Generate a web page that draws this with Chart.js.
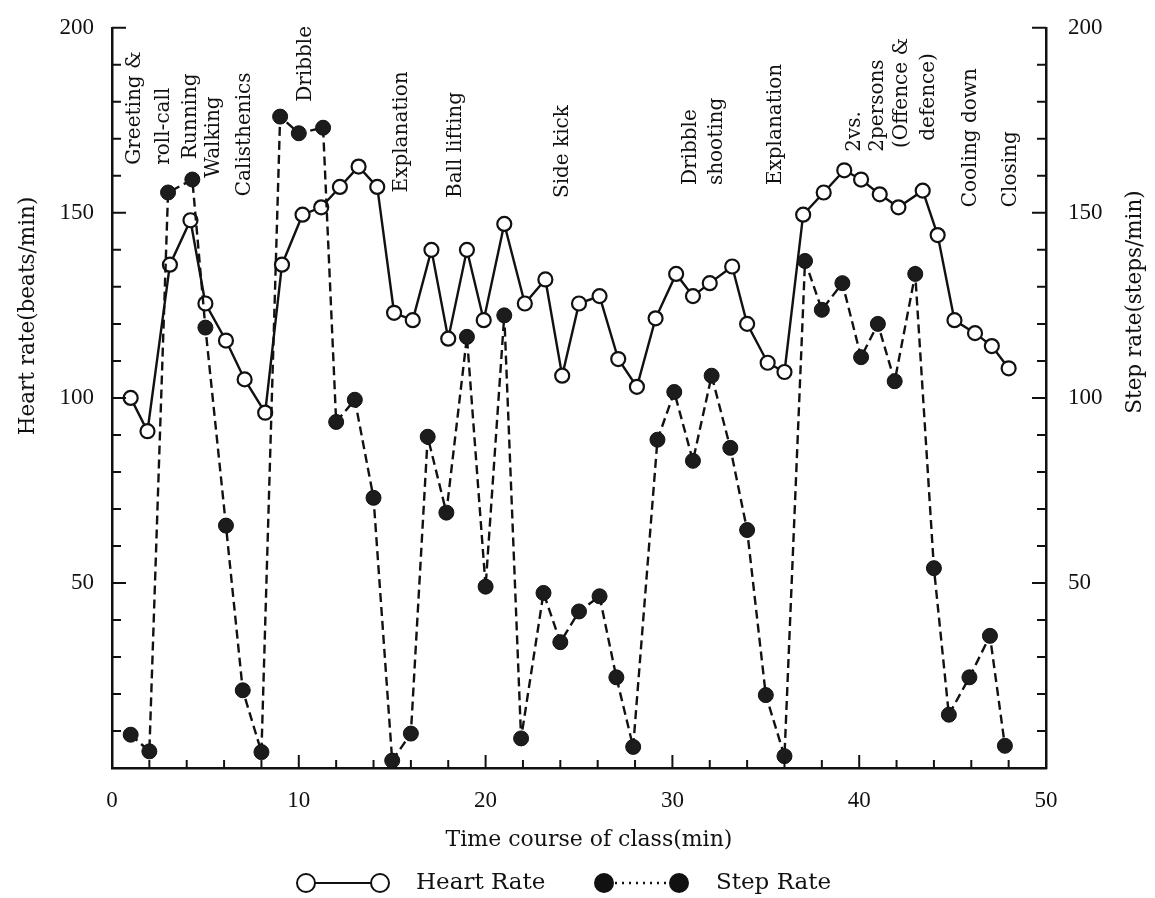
<!DOCTYPE html>
<html>
<head>
<meta charset="utf-8">
<script src="https://cdn.jsdelivr.net/npm/chart.js@4.4.1/dist/chart.umd.min.js"></script>
<style>
  html, body { margin: 0; padding: 0; background: #fff; }
  #c { display: block; }
</style>
</head>
<body>
<canvas id="c" width="1155" height="898"></canvas>
<script>
// values (minutes, beats/min and steps/min)
const hrTime = [1.0, 1.9, 3.1, 4.2, 5.0, 6.1, 7.1, 8.2, 9.1, 10.2, 11.2, 12.2, 13.2, 14.2, 15.1, 16.1,
  17.1, 18.0, 19.0, 19.9, 21.0, 22.1, 23.2, 24.1, 25.0, 26.1, 27.1, 28.1, 29.1, 30.2, 31.1, 32.0,
  33.2, 34.0, 35.1, 36.0, 37.0, 38.1, 39.2, 40.1, 41.1, 42.1, 43.4, 44.2, 45.1, 46.2, 47.1, 48.0];
const hrValues = [100, 91, 136, 148, 125.5, 115.5, 105, 96, 136, 149.5, 151.5, 157, 162.5, 157, 123, 121,
  140, 116, 140, 121, 147, 125.5, 132, 106, 125.5, 127.5, 110.5, 103, 121.5, 133.5, 127.5, 131,
  135.5, 120, 109.5, 107, 149.5, 155.5, 161.5, 159, 155, 151.5, 156, 144, 121, 117.5, 114, 108];

const stepTime = [1.0, 2.0, 3.0, 4.3, 5.0, 6.1, 7.0, 8.0, 9.0, 10.0, 11.3, 12.0, 13.0, 14.0, 15.0, 16.0,
  16.9, 17.9, 19.0, 20.0, 21.0, 21.9, 23.1, 24.0, 25.0, 26.1, 27.0, 27.9, 29.2, 30.1, 31.1, 32.1,
  33.1, 34.0, 35.0, 36.0, 37.1, 38.0, 39.1, 40.1, 41.0, 41.9, 43.0, 44.0, 44.8, 45.9, 47.0, 47.8];
const stepValues = [9, 4.5, 155.5, 159, 119, 65.5, 21, 4.3, 176, 171.5, 173, 93.5, 99.5, 73, 2, 9.3,
  89.5, 69, 116.5, 49, 122.3, 8, 47.3, 34, 42.3, 46.4, 24.5, 5.7, 88.7, 101.6, 83, 106,
  86.5, 64.3, 19.7, 3.2, 137, 123.8, 131, 111, 120, 104.5, 133.5, 54, 14.4, 24.5, 35.7, 6];

const xLabelStep = 10;
const yLabelStep = 50;

// class activities written above the curves: text, minute, value where the text starts
const phaseText = ['Greeting &', 'roll-call', 'Running', 'Walking', 'Calisthenics', 'Dribble',
  'Explanation', 'Ball lifting', 'Side kick', 'Dribble', 'shooting', 'Explanation',
  '2vs.', '2persons', '(Offence &', 'defence)', 'Cooling down', 'Closing'];
const phaseX = [1.2, 2.75, 4.2, 5.45, 7.1, 10.4, 15.5, 18.4, 24.15, 31.0, 32.35, 35.55,
  39.75, 41.0, 42.3, 43.75, 45.95, 48.1];
const phaseY = [163, 163, 164.5, 159.5, 154.5, 180, 155.5, 154, 154, 157.5, 157.5, 157.5,
  166.5, 166.5, 167.5, 169.5, 151.5, 151.5];

const INK = '#111';
const SERIF = "'DejaVu Serif', serif";

function toPoints(xs, ys) {
  return xs.map((x, i) => ({ x, y: ys[i] }));
}

const decorPlugin = {
  id: 'decor',
  afterDraw(chart) {
    const { ctx, chartArea: a, scales } = chart;
    const xs = scales.x, ys = scales.y;
    ctx.save();
    ctx.strokeStyle = INK;
    ctx.fillStyle = INK;
    ctx.lineWidth = 2;

    // inward tick marks
    for (let t = 2; t < 50; t += 2) {
      const px = xs.getPixelForValue(t);
      const len = t % 10 === 0 ? 13 : 8;
      ctx.beginPath();
      ctx.moveTo(px, a.bottom);
      ctx.lineTo(px, a.bottom - len);
      ctx.stroke();
    }
    for (let v = 10; v <= 200; v += 10) {
      const py = ys.getPixelForValue(v);
      const len = v % 50 === 0 ? 14 : 9;
      ctx.beginPath();
      ctx.moveTo(a.left, py);
      ctx.lineTo(a.left + len, py);
      ctx.moveTo(a.right, py);
      ctx.lineTo(a.right - len, py);
      ctx.stroke();
    }

    // activity labels, vertical
    ctx.font = '20px ' + SERIF;
    ctx.textAlign = 'left';
    ctx.textBaseline = 'middle';
    phaseText.forEach((txt, i) => {
      ctx.save();
      ctx.translate(xs.getPixelForValue(phaseX[i]), ys.getPixelForValue(phaseY[i]));
      ctx.rotate(-Math.PI / 2);
      ctx.fillText(txt, 0, 0);
      ctx.restore();
    });

    // axis titles
    ctx.font = '21.5px ' + SERIF;
    ctx.textAlign = 'center';
    ctx.save();
    ctx.translate(28, 316);
    ctx.rotate(-Math.PI / 2);
    ctx.fillText('Heart rate(beats/min)', 0, 0);
    ctx.restore();
    ctx.save();
    ctx.translate(1135, 302);
    ctx.rotate(-Math.PI / 2);
    ctx.fillText('Step rate(steps/min)', 0, 0);
    ctx.restore();

    ctx.font = '22px ' + SERIF;
    ctx.fillText('Time course of class(min)', 589, 840);

    // legend
    const ly = 883;
    ctx.lineWidth = 2;
    ctx.beginPath();
    ctx.moveTo(315, ly);
    ctx.lineTo(371, ly);
    ctx.stroke();
    [306, 380].forEach(cx => {
      ctx.beginPath();
      ctx.arc(cx, ly, 9, 0, Math.PI * 2);
      ctx.fillStyle = '#fff';
      ctx.fill();
      ctx.stroke();
    });
    ctx.fillStyle = INK;
    ctx.setLineDash([2, 5]);
    ctx.lineWidth = 2.5;
    ctx.beginPath();
    ctx.moveTo(615, ly);
    ctx.lineTo(668, ly);
    ctx.stroke();
    ctx.setLineDash([]);
    [604, 679].forEach(cx => {
      ctx.beginPath();
      ctx.arc(cx, ly, 10, 0, Math.PI * 2);
      ctx.fill();
    });
    ctx.font = '23px ' + SERIF;
    ctx.textAlign = 'left';
    ctx.fillText('Heart Rate', 416, ly);
    ctx.fillText('Step Rate', 716, ly);
    ctx.restore();
  }
};

const tickFont = { family: "'Liberation Serif', serif", size: 23 };

new Chart(document.getElementById('c'), {
  type: 'scatter',
  data: {
    datasets: [
      {
        label: 'Step Rate',
        data: toPoints(stepTime, stepValues),
        yAxisID: 'y2',
        showLine: true,
        borderColor: INK,
        borderWidth: 2.4,
        borderDash: [9, 5],
        pointRadius: 7.5,
        pointBackgroundColor: '#1c1c1c',
        pointBorderColor: INK,
        pointBorderWidth: 1,
        clip: false
      },
      {
        label: 'Heart Rate',
        data: toPoints(hrTime, hrValues),
        yAxisID: 'y',
        showLine: true,
        borderColor: INK,
        borderWidth: 2.4,
        pointRadius: 7,
        pointBackgroundColor: '#fff',
        pointBorderColor: INK,
        pointBorderWidth: 2.2,
        clip: false
      }
    ]
  },
  options: {
    responsive: false,
    animation: false,
    layout: { padding: { top: 18, left: 0, right: 0, bottom: 0 } },
    plugins: { legend: { display: false }, tooltip: { enabled: false } },
    scales: {
      x: {
        type: 'linear', position: 'bottom', min: 0, max: 50,
        grid: { display: false },
        border: { display: true, color: INK, width: 2.5 },
        ticks: { stepSize: xLabelStep, color: INK, font: tickFont, padding: 11, maxRotation: 0 },
        afterFit: s => { s.height = 130; }
      },
      y: {
        type: 'linear', position: 'left', min: 0, max: 200,
        grid: { display: false },
        border: { display: true, color: INK, width: 2.5 },
        ticks: { stepSize: yLabelStep, color: INK, font: tickFont, padding: 10,
          callback: v => (v === 0 ? '' : v) },
        afterFit: s => { s.width = 112; }
      },
      y2: {
        type: 'linear', position: 'right', min: 0, max: 200,
        grid: { display: false },
        border: { display: true, color: INK, width: 2.5 },
        ticks: { stepSize: yLabelStep, color: INK, font: tickFont, padding: 14,
          callback: v => (v === 0 ? '' : v) },
        afterFit: s => { s.width = 109; }
      }
    }
  },
  plugins: [decorPlugin]
});
</script>
</body>
</html>
